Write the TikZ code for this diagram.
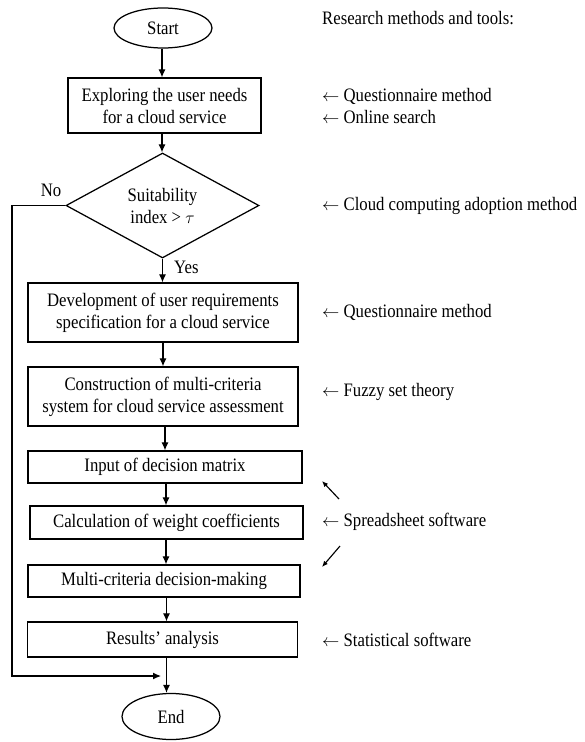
\documentclass[tikz,border=0pt]{standalone}
\usepackage{fontspec}
\setmainfont[FakeStretch=0.88]{Liberation Serif}
\usetikzlibrary{arrows.meta,shapes.geometric}
\begin{document}
\begin{tikzpicture}[x=1pt,y=-1pt,font=\fontsize{19}{22}\selectfont]
\tikzset{
  flow/.style={draw, line width=1.25pt, minimum width=270pt, align=center, inner sep=2pt},
  term/.style={draw, ellipse, line width=1.25pt, minimum width=98pt, minimum height=40pt, inner sep=0pt},
  conn/.style={line width=1.15pt, -{Latex[length=8pt,width=7pt]}},
  diag/.style={line width=1.15pt, -{Latex[length=6pt,width=5pt]}},
  note/.style={anchor=west, inner sep=0pt},
}
\useasboundingbox (0,0) rectangle (584,742);
% flow nodes
\node[term] (start) at (163,28) {Start};
\node[flow, minimum width=193pt, minimum height=55pt] (b1) at (164.5,105.5) {Exploring the user needs\\for a cloud service};
\node[draw, diamond, line width=1.25pt, minimum width=193pt, minimum height=105pt, inner sep=0pt, aspect=1.84, align=center] (d) at (162.5,205.5) {Suitability\\index > $\tau$};
\node[flow, minimum height=59pt] (b2) at (163,312.5) {Development of user requirements\\specification for a cloud service};
\node[flow, minimum height=59pt] (b3) at (163,396.5) {Construction of multi-criteria\\system for cloud service assessment};
\node[flow, minimum width=274pt, minimum height=32pt] (b4) at (165,467) {Input of decision matrix};
\node[flow, minimum width=273pt, minimum height=33pt] (b5) at (166.5,522.5) {Calculation of weight coefficients};
\node[flow, minimum width=272pt, minimum height=32pt] (b6) at (164,581) {Multi-criteria decision-making};
\node[flow, minimum height=35pt] (b7) at (162.5,639.5) {Results' analysis};
\node[term, minimum height=46pt] (end) at (171,716.5) {End};
% labels
\node (no) at (51,190) {No};
\node[anchor=west, inner sep=0pt] (yes) at (174,267) {Yes};
% notes
\node[note] (r0) at (322,18) {Research methods and tools:};
\node[note] (r1) at (322,96) {$\leftarrow$ Questionnaire method};
\node[note] (r2) at (322,117) {$\leftarrow$ Online search};
\node[note] (r3) at (322,206) {$\leftarrow$ Cloud computing adoption method};
\node[note] (r4) at (322,312) {$\leftarrow$ Questionnaire method};
\node[note] (r5) at (322,392) {$\leftarrow$ Fuzzy set theory};
\node[note] (r6) at (322,522) {$\leftarrow$ Spreadsheet software};
\node[note] (r7) at (322,640) {$\leftarrow$ Statistical software};
% connectors
\draw[conn] ([xshift=-1pt]start.south) -- ([xshift=-2.5pt]b1.north);
\draw[conn] ([xshift=-2.5pt]b1.south) -- ([xshift=-0.5pt]d.north);
\draw[conn] (d.south) -- ([xshift=-0.5pt]b2.north);
\draw[conn] (b2.south) -- (b3.north);
\draw[conn] ([xshift=2pt]b3.south) -- (b4.north);
\draw[conn] ([xshift=1pt]b4.south) -- ([xshift=-0.5pt]b5.north);
\draw[conn] ([xshift=-0.5pt]b5.south) -- ([xshift=2pt]b6.north);
\draw[conn] ([xshift=2.5pt]b6.south) -- ([xshift=4pt]b7.north);
\draw[conn] ([xshift=4pt]b7.south) -- ([xshift=-4.5pt]end.north);
% loop for "No"
\coordinate (lA) at (12,205.5);
\coordinate (lB) at (12,676);
\coordinate (lC) at (161,676);
\draw[conn] (d.west) -- (lA) -- (lB) -- (lC);
% diagonal arrows near spreadsheet
\coordinate (u1) at (339,499);
\coordinate (u2) at (322,481);
\coordinate (w1) at (340,546);
\coordinate (w2) at (322,567);
\draw[diag] (u1) -- (u2);
\draw[diag] (w1) -- (w2);
\end{tikzpicture}
\end{document}
